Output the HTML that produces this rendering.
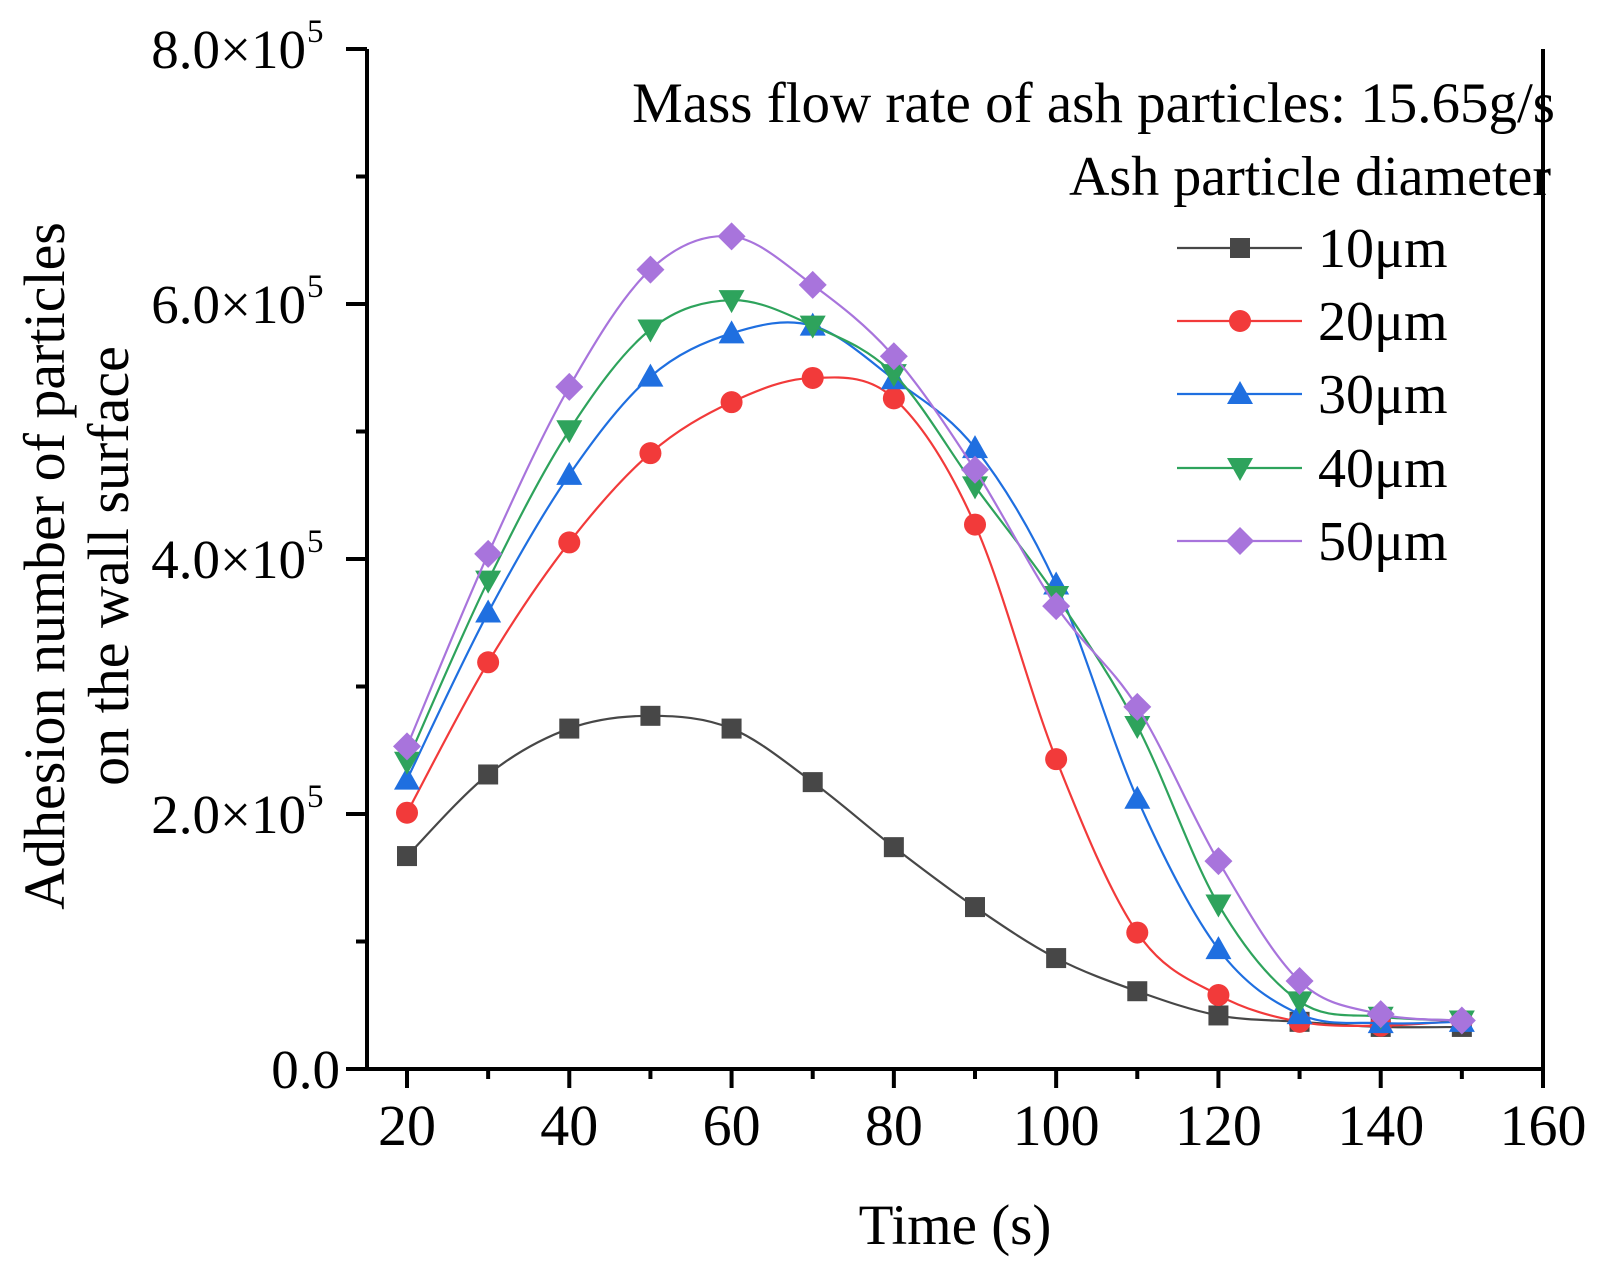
<!DOCTYPE html>
<html><head><meta charset="utf-8"><style>
html,body{margin:0;padding:0;background:#fff;}
svg{display:block;font-family:"Liberation Serif",serif;}
</style></head><body>
<svg id="chart" width="1598" height="1280" viewBox="0 0 1598 1280">
<g id="series"></g>
<g id="axes"></g>
<g id="legend"></g>
</svg>
<script>
const times=[20,30,40,50,60,70,80,90,100,110,120,130,140,150];
const s10=[1.67,2.31,2.67,2.77,2.67,2.25,1.74,1.27,0.87,0.61,0.42,0.37,0.33,0.33];
const s20=[2.01,3.19,4.13,4.83,5.23,5.42,5.26,4.27,2.43,1.07,0.58,0.37,0.34,0.38];
const s30=[2.27,3.58,4.66,5.43,5.77,5.83,5.41,4.87,3.80,2.12,0.94,0.43,0.36,0.37];
const s40=[2.41,3.83,5.01,5.80,6.03,5.83,5.45,4.57,3.71,2.69,1.29,0.53,0.41,0.38];
const s50=[2.53,4.04,5.35,6.27,6.53,6.15,5.59,4.70,3.63,2.84,1.63,0.69,0.43,0.38];
const seriesNames=["10μm","20μm","30μm","40μm","50μm"];
const xTicks=[20,40,60,80,100,120,140,160];
const yTicks=[0,2,4,6,8];
const yTickLabels=["0.0","2.0×10","4.0×10","6.0×10","8.0×10"];

const NS="http://www.w3.org/2000/svg";
const L=367,R=1543,T=49,B=1069;
const Y0=0,Y1=8;
const xs=v=>407+(v-20)*(1543-407)/140;
const ys=v=>B-(v-Y0)/(Y1-Y0)*(B-T);
function mk(tag,attrs,parent){const e=document.createElementNS(NS,tag);for(const k in attrs)e.setAttribute(k,attrs[k]);parent.appendChild(e);return e;}
const axes=document.getElementById('axes'),ser=document.getElementById('series'),leg=document.getElementById('legend');

const colors=["#474747","#f23a3a","#1f6fe0","#2ea35c","#a874dc"];
const markers=["square","circle","tri","tridown","diamond"];
const data=[s10,s20,s30,s40,s50];

function marker(type,cx,cy,col,parent){
  let e;
  if(type==="square") e=mk('rect',{x:cx-10,y:cy-10,width:20,height:20,fill:col},parent);
  else if(type==="circle") e=mk('circle',{cx:cx,cy:cy,r:11,fill:col},parent);
  else if(type==="tri") e=mk('polygon',{points:`${cx},${cy-13} ${cx-13},${cy+10} ${cx+13},${cy+10}`,fill:col},parent);
  else if(type==="tridown") e=mk('polygon',{points:`${cx},${cy+13} ${cx-13},${cy-10} ${cx+13},${cy-10}`,fill:col},parent);
  else e=mk('polygon',{points:`${cx},${cy-14} ${cx+14},${cy} ${cx},${cy+14} ${cx-14},${cy}`,fill:col},parent);
  return e;
}
function spline(pts){
  let d=`M${pts[0][0]},${pts[0][1]}`;
  for(let i=0;i<pts.length-1;i++){
    const p0=pts[Math.max(0,i-1)],p1=pts[i],p2=pts[i+1],p3=pts[Math.min(pts.length-1,i+2)];
    const c1=[p1[0]+(p2[0]-p0[0])/6,p1[1]+(p2[1]-p0[1])/6];
    const c2=[p2[0]-(p3[0]-p1[0])/6,p2[1]-(p3[1]-p1[1])/6];
    d+=` C${c1[0]},${c1[1]} ${c2[0]},${c2[1]} ${p2[0]},${p2[1]}`;
  }
  return d;
}
data.forEach((arr,si)=>{
  const g=mk('g',{},ser);
  
  
  const pts=times.map((t,i)=>[xs(t),ys(arr[i])]);
  const p=mk('path',{d:spline(pts),fill:'none',stroke:colors[si],'stroke-width':2.2},g);
  
  
  pts.forEach(q=>{
    const m=marker(markers[si],q[0],q[1],colors[si],g);
    
    
  });
});

const frame=mk('path',{d:`M${L},${T} L${L},${B} L${R},${B} L${R},${T}`,fill:'none',stroke:'#000','stroke-width':4},axes);


mk('line',{x1:L-21,y1:B,x2:L,y2:B,stroke:'#000','stroke-width':4},axes);
xTicks.forEach(v=>{
  const x=xs(v);
  mk('line',{x1:x,y1:B,x2:x,y2:B+19,stroke:'#000','stroke-width':4},axes);
  if(v<160){const xm=xs(v+10);mk('line',{x1:xm,y1:B,x2:xm,y2:B+10,stroke:'#000','stroke-width':4},axes);}
  const t=mk('text',{x:x,y:B+76,'font-size':58,'text-anchor':'middle'},axes);
  t.textContent=v;
  
  
});
yTicks.forEach((v,i)=>{
  const y=ys(v);
  mk('line',{x1:L-21,y1:y,x2:L,y2:y,stroke:'#000','stroke-width':4},axes);
  if(v<8){const ym=ys(v+1);mk('line',{x1:L-11,y1:ym,x2:L,y2:ym,stroke:'#000','stroke-width':4},axes);}
  const t=mk('text',{x:v===0?L-27:L-61,y:y+19,'font-size':55,'text-anchor':'end'},axes);
  t.textContent=yTickLabels[i];
  
  
  if(v>0){const s=mk('text',{x:L-60,y:y-7,'font-size':33,'text-anchor':'start'},axes);s.textContent='5';
    
    }
});
const xt=mk('text',{x:955,y:1244,'font-size':57,'text-anchor':'middle'},axes);
xt.textContent='Time (s)';


const yt=mk('text',{transform:'translate(64,566) rotate(-90)','font-size':58,'text-anchor':'middle'},axes);
yt.textContent='Adhesion number of particles';


const yt2=mk('text',{transform:'translate(128,566) rotate(-90)','font-size':58,'text-anchor':'middle'},axes);
yt2.textContent='on the wall surface';



const lt1=mk('text',{x:1555,y:122,'font-size':57,'text-anchor':'end'},leg);
lt1.textContent='Mass flow rate of ash particles: 15.65g/s';


const lt2=mk('text',{x:1551,y:195,'font-size':56,'text-anchor':'end'},leg);
lt2.textContent='Ash particle diameter';


const rowsY=[248,321,394,468,541];
seriesNames.forEach((n,i)=>{
  const g=mk('g',{},leg);
  
  
  mk('line',{x1:1177,y1:rowsY[i],x2:1302,y2:rowsY[i],stroke:colors[i],'stroke-width':2.2},g);
  marker(markers[i],1240,rowsY[i],colors[i],g);
  const t=mk('text',{x:1318,y:rowsY[i]+19,'font-size':56},g);
  t.textContent=n;
});
</script>
</body></html>
